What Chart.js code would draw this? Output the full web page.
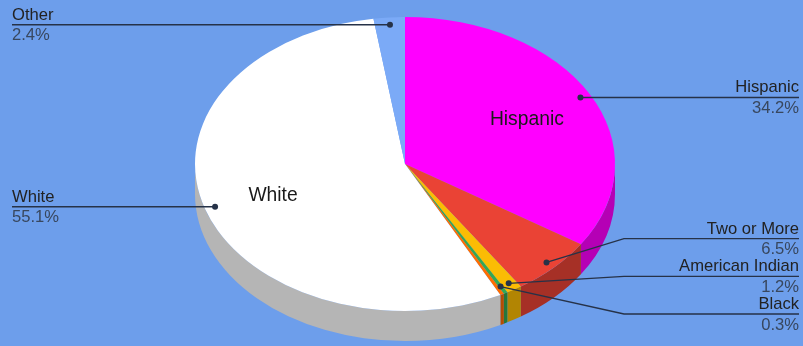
<!DOCTYPE html>
<html>
<head>
<meta charset="utf-8">
<script src="https://cdn.jsdelivr.net/npm/chart.js@4/dist/chart.umd.min.js"></script>
<style>
    html, body { margin: 0; padding: 0; background: #6d9eeb; }
    canvas { display: block; }
</style>
</head>
<body>
<canvas id="raceChart" width="803" height="346"></canvas>
<script>
// ---------------------------------------------
// Data
// ---------------------------------------------
const categories = ['Hispanic', 'Two or More', 'American Indian', 'Black', 'Asian', 'White', 'Other']
const shares = [34.2, 6.5, 1.2, 0.3, 0.3, 55.1, 2.4]
const sliceColors = ['#ff00ff', '#ea4335', '#fbbc04', '#34a853', '#ff6d01', '#ffffff', '#7baaf7']
// slices too thin to get their own outside label
const showLabel = [true, true, true, true, false, true, true]

// 3d look
const STRETCH_X = 210 / 147   // top face is wider than tall
const DEPTH = 30              // thickness of the pie rim
const SIDE_SHADE = 0.71

const LABEL_FONT = '16.6px "Liberation Sans", Arial, sans-serif'
const INSIDE_FONT = '19.3px "Liberation Sans", Arial, sans-serif'
const LINE_COLOR = '#263248'
const ROW_GAP = 37.7

function shade(hex, k) {
    const n = parseInt(hex.slice(1), 16)
    const r = Math.round(((n >> 16) & 255) * k)
    const g = Math.round(((n >> 8) & 255) * k)
    const b = Math.round((n & 255) * k)
    return `rgb(${r}, ${g}, ${b})`
}

// squash the pie into an ellipse and draw the rim under it
const tiltPlugin = {
    id: 'tilt',
    beforeDatasetsDraw(chart) {
        const ctx = chart.ctx
        const arcs = chart.getDatasetMeta(0).data
        const { x, y, outerRadius } = arcs[0]

        ctx.save()
        ctx.translate(x, y)
        ctx.scale(STRETCH_X, 1)
        ctx.translate(-x, -y)

        arcs.forEach((arc, i) => {
            // only the front half of the rim is visible
            const s = Math.max(arc.startAngle, 0)
            const e = Math.min(arc.endAngle, Math.PI)
            if (e <= s) return
            ctx.beginPath()
            ctx.arc(x, y, outerRadius, s, e)
            ctx.arc(x, y + DEPTH, outerRadius, e, s, true)
            ctx.closePath()
            ctx.fillStyle = shade(sliceColors[i], SIDE_SHADE)
            ctx.fill()
        })
    },
    afterDatasetsDraw(chart) {
        chart.ctx.restore()
    }
}

// outside labels with leader lines + names inside the big slices
const labelPlugin = {
    id: 'pieLabels',
    afterDraw(chart) {
        const ctx = chart.ctx
        const arcs = chart.getDatasetMeta(0).data
        const { x, y, outerRadius } = arcs[0]
        const total = shares.reduce((a, b) => a + b, 0)
        const rx = outerRadius * STRETCH_X
        const ry = outerRadius
        const maxY = chart.height - 32

        const left = []
        const right = []

        arcs.forEach((arc, i) => {
            const mid = (arc.startAngle + arc.endAngle) / 2
            const pct = shares[i] * 100 / total

            if (pct > 20) {
                ctx.font = INSIDE_FONT
                ctx.fillStyle = '#1a1a1a'
                ctx.textAlign = 'center'
                ctx.textBaseline = 'alphabetic'
                ctx.fillText(categories[i], x + Math.cos(mid) * rx * 0.66, y + Math.sin(mid) * ry * 0.66 + 7)
            }

            if (!showLabel[i]) return
            const item = {
                name: categories[i],
                pct: pct.toFixed(1) + '%',
                dx: x + Math.cos(mid) * rx * 0.95,
                dy: y + Math.sin(mid) * ry * 0.95
            }
            item.lineY = item.dy
            if (Math.cos(mid) >= 0) right.push(item)
            else left.push(item)
        })

        // push overlapping rows apart, keep them inside the canvas
        function stack(list) {
            list.sort((a, b) => a.dy - b.dy)
            for (let i = 1; i < list.length; i++) {
                list[i].lineY = Math.max(list[i].dy, list[i - 1].lineY + ROW_GAP)
            }
            const n = list.length - 1
            if (n >= 0 && list[n].lineY > maxY) {
                list[n].lineY = maxY
                for (let i = n - 1; i >= 0; i--) {
                    list[i].lineY = Math.min(list[i].lineY, list[i + 1].lineY - ROW_GAP)
                }
            }
        }
        stack(left)
        stack(right)

        function drawSide(list, isRight) {
            const textX = isRight ? chart.width - 4 : 12
            const elbowX = isRight ? x + rx + 9 : x - rx - 9

            list.forEach(item => {
                ctx.strokeStyle = LINE_COLOR
                ctx.lineWidth = 1.3
                ctx.beginPath()
                ctx.moveTo(item.dx, item.dy)
                ctx.lineTo(elbowX, item.lineY)
                ctx.lineTo(textX, item.lineY)
                ctx.stroke()

                ctx.fillStyle = LINE_COLOR
                ctx.beginPath()
                ctx.arc(item.dx, item.dy, 3, 0, Math.PI * 2)
                ctx.fill()

                ctx.font = LABEL_FONT
                ctx.textAlign = isRight ? 'right' : 'left'
                ctx.textBaseline = 'alphabetic'
                ctx.fillStyle = '#222222'
                ctx.fillText(item.name, textX, item.lineY - 5)
                ctx.fillStyle = '#38475e'
                ctx.fillText(item.pct, textX, item.lineY + 15.7)
            })
        }
        drawSide(left, false)
        drawSide(right, true)
    }
}

const ctx = document.getElementById('raceChart').getContext('2d')
const raceChart = new Chart(ctx, {
    type: 'pie',
    data: {
        labels: categories,
        datasets: [{
            data: shares,
            backgroundColor: sliceColors,
            borderWidth: 0,
            hoverOffset: 0,
            clip: false
        }]
    },
    options: {
        responsive: false,
        animation: false,
        events: [],
        layout: {
            padding: { top: 17, bottom: 35, left: 7, right: 0 }
        },
        plugins: {
            legend: { display: false },
            tooltip: { enabled: false }
        }
    },
    plugins: [tiltPlugin, labelPlugin]
})
</script>
</body>
</html>
